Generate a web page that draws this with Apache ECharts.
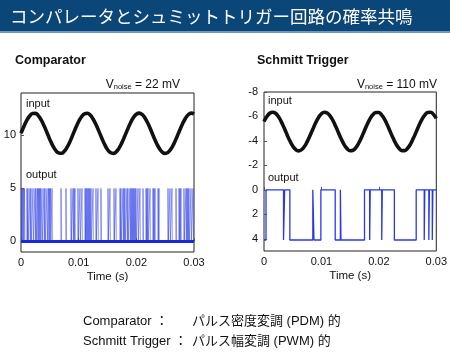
<!DOCTYPE html>
<html>
<head>
<meta charset="utf-8">
<script src="https://cdn.jsdelivr.net/npm/echarts@6/dist/echarts.min.js"></script>
<style>
  html, body { margin: 0; padding: 0; background: #fff; }
  #chart { width: 450px; height: 352px; }
</style>
</head>
<body>
<div id="chart"></div>
<script>
// 入力波形のサンプル時刻 (s)
const sampleTime = [
  0, 0.0005, 0.001, 0.0015, 0.002, 0.0025, 0.003, 0.0035, 0.004, 0.0045,
  0.005, 0.0055, 0.006, 0.0065, 0.007, 0.0075, 0.008, 0.0085, 0.009, 0.0095,
  0.01, 0.0105, 0.011, 0.0115, 0.012, 0.0125, 0.013, 0.0135, 0.014, 0.0145,
  0.015, 0.0155, 0.016, 0.0165, 0.017, 0.0175, 0.018, 0.0185, 0.019, 0.0195,
  0.02, 0.0205, 0.021, 0.0215, 0.022, 0.0225, 0.023, 0.0235, 0.024, 0.0245,
  0.025, 0.0255, 0.026, 0.0265, 0.027, 0.0275, 0.028, 0.0285, 0.029, 0.0295, 0.03
];

// Comparator 入力 (V)
const compInput = [
  10.2, 10.84, 11.41, 11.83, 12.07, 12.08, 11.87, 11.46, 10.9, 10.27,
  9.62, 9.04, 8.6, 8.35, 8.31, 8.5, 8.89, 9.43, 10.07, 10.72,
  11.31, 11.76, 12.04, 12.09, 11.93, 11.55, 11.02, 10.4, 9.75, 9.15,
  8.67, 8.38, 8.3, 8.45, 8.8, 9.32, 9.94, 10.59, 11.2, 11.69,
  12.0, 12.1, 11.98, 11.64, 11.14, 10.53, 9.87, 9.26, 8.76, 8.42,
  8.3, 8.4, 8.71, 9.2, 9.81, 10.46, 11.08, 11.6, 11.95, 12.1, 12.02
];

// Schmitt Trigger 入力 (V)
const schInput = [
  -5.58, -5.99, -6.26, -6.35, -6.26, -5.99, -5.58, -5.07, -4.53, -4.01,
  -3.59, -3.3, -3.19, -3.27, -3.52, -3.92, -4.42, -4.96, -5.48, -5.92,
  -6.22, -6.35, -6.29, -6.05, -5.67, -5.17, -4.63, -4.11, -3.66, -3.35,
  -3.2, -3.24, -3.45, -3.83, -4.31, -4.85, -5.38, -5.84, -6.17, -6.33,
  -6.32, -6.11, -5.76, -5.28, -4.74, -4.21, -3.74, -3.4, -3.21, -3.21,
  -3.4, -3.74, -4.21, -4.74, -5.28, -5.76, -6.11, -6.32, -6.34, -6.17, -5.84
];

// Comparator 出力パルスの立ち上がり時刻 (s)
const pdmPulse = [
  0.00009, 0.00026, 0.00043, 0.00061, 0.00104, 0.00121, 0.00156, 0.00173, 0.00208, 0.00243,
  0.0026, 0.00286, 0.00303, 0.00321, 0.00338, 0.00364, 0.00399, 0.00416, 0.00451, 0.00477,
  0.00494, 0.00512, 0.00538, 0.00694, 0.0078, 0.00867, 0.00902, 0.00919, 0.00936, 0.00988,
  0.01023, 0.01058, 0.0111, 0.01127, 0.01144, 0.01162, 0.01179, 0.01196, 0.01214, 0.01249,
  0.013, 0.01335, 0.01387, 0.01509, 0.01543, 0.01613, 0.01647, 0.01717, 0.01734, 0.01769,
  0.01786, 0.01803, 0.01838, 0.01855, 0.0189, 0.01907, 0.01925, 0.01942, 0.01959, 0.01977,
  0.01994, 0.02029, 0.02063, 0.02116, 0.02168, 0.02185, 0.02202, 0.02237, 0.02289, 0.02306,
  0.02324, 0.02376, 0.02393, 0.02549, 0.02584, 0.02618, 0.02688, 0.0274, 0.02757, 0.02774,
  0.02826, 0.02861, 0.02878, 0.02896, 0.02913, 0.02948, 0.02983
];
const pdmWidth = 0.00006;   // パルス幅 (s)
const pdmLow = 0;
const pdmHigh = 5;

// Schmitt Trigger 出力の遷移時刻と遷移後のレベル
const pwmT = [
  0, 0.00035, 0.0034, 0.0036, 0.0045, 0.0085, 0.0087, 0.0099, 0.0124, 0.0133,
  0.0134, 0.0175, 0.0184, 0.0185, 0.0205, 0.0206, 0.0227, 0.0265, 0.0279, 0.028,
  0.0287, 0.0288, 0.0293, 0.0294, 0.03
];
const pwmV = [
  4.1, 0, 4.1, 0, 4.1, 0, 4.1, 0, 4.1, 0,
  4.1, 0, 4.1, 0, 4.1, 0, 4.1, 0, 4.1, 0,
  4.1, 0, 4.1, 0, 0
];

// 目盛り
const timeTicks = [0, 0.01, 0.02, 0.03];
const compTicks = [0, 5, 10];
const schTicks = [-8, -6, -4, -2, 0, 2, 4];

const LATIN = '"Liberation Sans", Arial, sans-serif';
const JP = '"Noto Sans CJK JP", sans-serif';
const MIX = '"Liberation Sans", "Noto Sans CJK JP", sans-serif';

const chart = echarts.init(document.getElementById('chart'));

// 出力パルス列 (矩形) を組み立てる
const pdmData = [];
pdmPulse.forEach((t) => {
  pdmData.push([t, pdmLow], [t, pdmHigh], [t + pdmWidth, pdmHigh], [t + pdmWidth, pdmLow]);
});
const pdmBase = [[timeTicks[0], pdmLow], [timeTicks[timeTicks.length - 1], pdmLow]];
const pwmData = pwmT.map((t, i) => [t, pwmV[i]]);
const compData = sampleTime.map((t, i) => [t, compInput[i]]);
const schData = sampleTime.map((t, i) => [t, schInput[i]]);

function timeAxis(gridIndex) {
  return {
    type: 'value',
    gridIndex,
    min: 0,
    max: 0.03,
    axisLine: { show: false },
    splitLine: { show: false },
    axisTick: { inside: true, length: 3, customValues: timeTicks, lineStyle: { color: '#555' } },
    axisLabel: {
      customValues: timeTicks,
      margin: 5,
      fontFamily: LATIN,
      fontSize: 11,
      color: '#111',
      formatter: (v) => (v === 0 ? '0' : String(+v.toFixed(2)))
    },
    name: 'Time (s)',
    nameLocation: 'middle',
    nameGap: 19,
    nameTextStyle: { fontFamily: LATIN, fontSize: 11.5, color: '#111' }
  };
}

function valueAxis(gridIndex, min, max, ticks, inverse, margin) {
  return {
    type: 'value',
    gridIndex,
    min,
    max,
    inverse,
    axisLine: { show: false },
    splitLine: { show: false },
    axisTick: { inside: true, length: 3, customValues: ticks, lineStyle: { color: '#555' } },
    axisLabel: {
      customValues: ticks,
      margin,
      fontFamily: LATIN,
      fontSize: 11,
      color: '#111'
    }
  };
}

function vnoise(text, right) {
  return {
    text: '{v|V}{s|noise}{v| = ' + text + '}',
    right,
    top: 77,
    padding: 0,
    textStyle: {
      fontWeight: 'normal',
      rich: {
        v: { fontFamily: LATIN, fontSize: 12, fontWeight: 'normal', color: '#111', lineHeight: 14, verticalAlign: 'bottom' },
        s: { fontFamily: LATIN, fontSize: 7.5, fontWeight: 'normal', color: '#111', lineHeight: 10, verticalAlign: 'bottom' }
      }
    }
  };
}

function label(x, y, text, opts = {}) {
  return {
    type: 'text',
    x,
    y,
    style: Object.assign({
      text,
      fill: '#111',
      fontFamily: LATIN,
      fontSize: 11,
      verticalAlign: 'middle'
    }, opts)
  };
}

const option = {
  backgroundColor: '#fff',
  animation: false,
  title: [vnoise('22 mV', 270), vnoise('110 mV', 13)],
  grid: [
    { left: 21, top: 93, width: 173, height: 159, show: true, borderColor: '#222', borderWidth: 1, backgroundColor: 'transparent' },
    { left: 264, top: 92, width: 173, height: 159, show: true, borderColor: '#222', borderWidth: 1, backgroundColor: 'transparent' }
  ],
  xAxis: [timeAxis(0), timeAxis(1)],
  yAxis: [
    valueAxis(0, -1, 14, compTicks, false, 5),
    valueAxis(1, -8, 5, schTicks, true, 6)
  ],
  series: [
    {
      type: 'line', xAxisIndex: 0, yAxisIndex: 0, data: pdmData,
      showSymbol: false, lineStyle: { color: '#2a3ae6', width: 1, opacity: 0.5 }
    },
    {
      type: 'line', xAxisIndex: 0, yAxisIndex: 0, data: pdmBase,
      showSymbol: false, lineStyle: { color: '#1a2ad6', width: 3 }
    },
    {
      type: 'line', xAxisIndex: 0, yAxisIndex: 0, data: compData, smooth: true,
      showSymbol: false, lineStyle: { color: '#111', width: 3.6 }
    },
    {
      type: 'line', xAxisIndex: 1, yAxisIndex: 1, data: pwmData, step: 'end',
      showSymbol: false, lineStyle: { color: '#2838e6', width: 1.3 }
    },
    {
      type: 'line', xAxisIndex: 1, yAxisIndex: 1, data: schData, smooth: true,
      showSymbol: false, lineStyle: { color: '#111', width: 3.6 }
    }
  ],
  graphic: [
    { type: 'rect', shape: { x: 0, y: 0, width: 450, height: 31 }, style: { fill: '#0b4679' } },
    { type: 'rect', shape: { x: 0, y: 31, width: 450, height: 2 }, style: { fill: '#7398bb' } },
    label(10, 16, 'コンパレータとシュミットトリガー回路の確率共鳴', { fill: '#fff', fontFamily: JP, fontSize: 17.5 }),
    label(15, 61, 'Comparator', { fontWeight: 'bold', fontSize: 12.5 }),
    label(257, 61, 'Schmitt Trigger', { fontWeight: 'bold', fontSize: 12.5 }),
    label(26, 104, 'input'),
    label(26, 175, 'output'),
    label(268, 101, 'input'),
    label(268, 178, 'output'),
    label(83, 321, 'Comparator ：', { fontFamily: MIX, fontSize: 13 }),
    label(192, 321, 'パルス密度変調 (PDM) 的', { fontFamily: MIX, fontSize: 13 }),
    label(83, 341, 'Schmitt Trigger ：', { fontFamily: MIX, fontSize: 13 }),
    label(192, 341, 'パルス幅変調 (PWM) 的', { fontFamily: MIX, fontSize: 13 })
  ]
};

chart.setOption(option);
</script>
</body>
</html>
